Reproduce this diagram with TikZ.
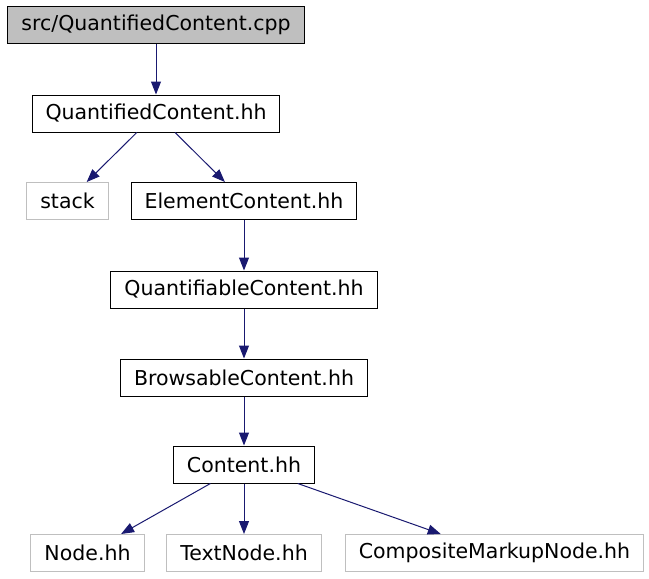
\documentclass[tikz,border=0pt]{standalone}
\usepackage{fontspec}
\setmainfont{DejaVu Sans}
\usetikzlibrary{arrows.meta}

\definecolor{edgeblue}{HTML}{191970}
\definecolor{extgray}{HTML}{BFBFBF}

\begin{document}
\begin{tikzpicture}[x=1pt, y=-1pt,
  >={Triangle[length=13pt, width=10pt]},
  file/.style={draw=black, line width=1pt, inner xsep=13.5pt, inner ysep=0pt,
    minimum height=37pt, font=\fontsize{20.5}{24}\selectfont},
  root/.style={file, fill=extgray},
  ext/.style={file, draw=extgray},
  dep/.style={->, edgeblue, line width=1pt}]

\useasboundingbox (0,0) rectangle (649,579);

% The file itself and the headers it pulls in
\node [root] (cpp) at (156,25) {src/QuantifiedContent.cpp};
\node [file] (qch) at (156,113.5) {QuantifiedContent.hh};
\node [ext] (stack) at (67.5,201) {stack};
\node [file] (elem) at (244,201) {ElementContent.hh};
\node [file] (quant) at (244,289.5) {QuantifiableContent.hh};
\node [file] (brows) at (244,377.5) {BrowsableContent.hh};
\node [file] (cont) at (244,464.5) {Content.hh};

% External headers at the bottom row
\node [ext] (node) at (87.5,553) {Node.hh};
\node [ext] (text) at (244,553) {TextNode.hh};
\node [ext] (comp) at (494.5,553) {CompositeMarkupNode.hh};

% Include edges
\foreach \a/\b in {cpp/qch, qch/stack, qch/elem, elem/quant, quant/brows,
  brows/cont, cont/node, cont/text, cont/comp} {
  \draw [dep] (\a) -- (\b);
}
\end{tikzpicture}
\end{document}
